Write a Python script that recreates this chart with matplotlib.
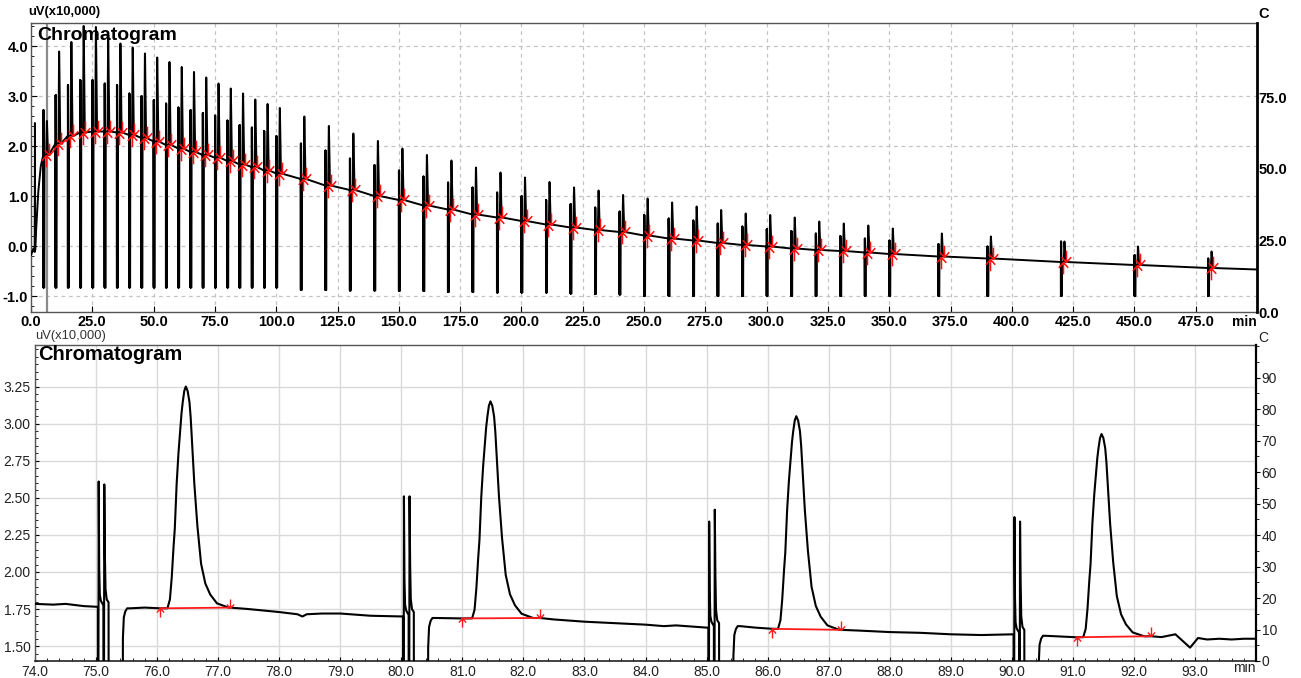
import numpy as np
import matplotlib
matplotlib.use('Agg')
import matplotlib.pyplot as plt
from matplotlib.path import Path
from matplotlib.ticker import FixedLocator, MultipleLocator

plt.rcParams['font.family'] = ['Liberation Sans', 'DejaVu Sans']

# ---------------- overview (top) data ----------------
early_t = [0.0, 1.0, 1.5, 1.6, 1.7, 2.0, 3.0, 4.0, 4.9]
early_v = [-0.18, -0.05, -0.12, 2.46, -0.08, 0.25, 1.10, 1.60, 1.80]

inj_t = [5, 10, 15, 20, 25, 30, 35, 40, 45, 50, 55, 60, 65, 70, 75, 80, 85, 90, 95, 100,
         110, 120, 130, 140, 150, 160, 170, 180, 190, 200, 210, 220, 230, 240, 250, 260,
         270, 280, 290, 300, 310, 320, 330, 340, 350, 370, 390, 420, 450, 480]
inj_base = [1.82, 2.05, 2.20, 2.27, 2.29, 2.29, 2.27, 2.22, 2.16, 2.09, 2.02, 1.95, 1.88, 1.82,
            1.765, 1.70, 1.63, 1.58, 1.51, 1.45,
            1.34, 1.21, 1.12, 1.00, 0.92, 0.81, 0.73, 0.63, 0.57, 0.50, 0.43, 0.37, 0.32, 0.28,
            0.21, 0.15, 0.11, 0.06, 0.02, -0.01, -0.05, -0.08, -0.10, -0.13, -0.16,
            -0.21, -0.25, -0.32, -0.38, -0.44]
inj_spike = [2.72, 3.02, 3.22, 3.32, 3.32, 3.25, 3.22, 3.05, 3.00, 2.92, 2.85, 2.77, 2.72, 2.66,
             2.61, 2.51, 2.42, 2.37, 2.30, 2.20,
             2.05, 1.91, 1.75, 1.62, 1.51, 1.39, 1.27, 1.17, 1.07, 1.00, 0.92, 0.84, 0.77, 0.69,
             0.62, 0.55, 0.51, 0.45, 0.39, 0.34, 0.30, 0.25, 0.20, 0.15, 0.11,
             0.04, -0.01, 0.09, -0.18, -0.25]
inj_peak = [2.50, 3.89, 4.08, 4.40, 4.38, 4.22, 4.05, 3.97, 3.85, 3.77, 3.68, 3.58, 3.48, 3.37,
            3.25, 3.15, 3.05, 2.93, 2.84, 2.76,
            2.59, 2.40, 2.25, 2.10, 1.95, 1.82, 1.71, 1.57, 1.47, 1.37, 1.28, 1.17, 1.11, 1.02,
            0.95, 0.87, 0.79, 0.72, 0.65, 0.62, 0.57, 0.49, 0.45, 0.41, 0.35,
            0.25, 0.19, 0.09, -0.01, -0.11]
inj_floor = [-0.83] * 20 + [-0.88, -0.88, -0.89, -0.89, -0.90, -0.90, -0.92, -0.92, -0.93,
                            -0.93, -0.93, -0.95, -0.96, -0.97] + [-1.0] * 16
end_t, end_v = 500.0, -0.47
cursor_t = 6.6

# ---------------- zoomed (bottom) data ----------------
bl_t = [74.0, 74.3, 74.5, 74.8, 75.0,
        75.55, 75.8, 76.05,
        77.2, 77.5, 78.0, 78.3, 78.38, 78.45, 78.7, 79.0, 79.5, 80.0,
        80.55, 80.99,
        82.27, 82.5, 83.0, 83.5, 84.0, 84.3, 84.5, 85.0,
        85.55, 85.8, 86.08,
        87.2, 87.5, 88.0, 88.5, 89.0, 89.5, 90.0,
        90.55, 91.06,
        92.28, 92.45, 92.68, 92.92, 93.05, 93.2, 93.4, 93.6, 93.8, 94.0]
bl_v = [1.785, 1.78, 1.785, 1.77, 1.765,
        1.755, 1.76, 1.755,
        1.76, 1.75, 1.73, 1.715, 1.70, 1.715, 1.72, 1.72, 1.705, 1.70,
        1.69, 1.687,
        1.69, 1.68, 1.665, 1.655, 1.645, 1.635, 1.64, 1.625,
        1.635, 1.625, 1.617,
        1.61, 1.605, 1.595, 1.59, 1.58, 1.575, 1.58,
        1.57, 1.56,
        1.567, 1.561, 1.58, 1.49, 1.555, 1.545, 1.55, 1.545, 1.55, 1.55]
b_inj_t = [75.0, 80.0, 85.0, 90.0]
b_inj_base = [1.765, 1.70, 1.625, 1.58]
b_inj_after = [1.755, 1.69, 1.635, 1.57]
b_spike1 = [2.61, 2.51, 2.34, 2.37]
b_spike2 = [2.59, 2.51, 2.42, 2.34]
b_pk_t = [76.47, 81.46, 86.47, 91.47]
b_pk_top = [3.25, 3.15, 3.05, 2.93]
b_pk_start_t = [76.05, 80.99, 86.08, 91.06]
b_pk_start_v = [1.755, 1.687, 1.617, 1.56]
b_pk_end_t = [77.2, 82.27, 87.2, 92.28]
b_pk_end_v = [1.76, 1.69, 1.61, 1.567]
shape_dt = [-0.30, -0.26, -0.23, -0.20, -0.18, -0.15, -0.12, -0.10, -0.07, -0.05, -0.025, 0.0,
            0.03, 0.06, 0.08, 0.10, 0.14, 0.19, 0.25, 0.32, 0.40, 0.51, 0.70]
shape_frac = [0.0, 0.04, 0.14, 0.28, 0.36, 0.56, 0.70, 0.77, 0.88, 0.93, 0.98, 1.0,
              0.98, 0.93, 0.86, 0.76, 0.56, 0.37, 0.20, 0.11, 0.06, 0.02, 0.0]

top_xticks = [0, 25, 50, 75, 100, 125, 150, 175, 200, 225, 250, 275, 300, 325, 350, 375, 400,
              425, 450, 475]
top_yticks = [-1.0, 0.0, 1.0, 2.0, 3.0, 4.0]
top_rticks = [0.0, 25.0, 50.0, 75.0]
bot_xticks = [74.0 + i for i in range(20)]
bot_yticks = [1.50, 1.75, 2.00, 2.25, 2.50, 2.75, 3.00, 3.25]
bot_rticks = [0, 10, 20, 30, 40, 50, 60, 70, 80, 90]

# ---------------- helpers ----------------
M, L = Path.MOVETO, Path.LINETO
up_arrow = Path([(0, -1), (0, 0), (-0.4, -0.45), (0, 0), (0.4, -0.45)], [M, L, M, L, L])
down_arrow = Path([(0, 1), (0, 0), (-0.4, 0.45), (0, 0), (0.4, 0.45)], [M, L, M, L, L])

W, H = 1301, 678
fig = plt.figure(figsize=(W / 100, H / 100), dpi=100)


def fx(px):
    return px / W


def fy(py):
    return 1 - py / H


# ================= TOP PANEL =================
ax1 = fig.add_axes([fx(31), fy(312), fx(1257) - fx(31), fy(23) - fy(312)])
tt = list(early_t)
tv = list(early_v)
for t0, b, s, p, f in zip(inj_t, inj_base, inj_spike, inj_peak, inj_floor):
    tt += [t0, t0 + 0.03, t0 + 0.045, t0 + 0.08, t0 + 0.12, t0 + 0.14, t0 + 0.17, t0 + 0.21,
           t0 + 0.43, t0 + 0.5, t0 + 1.2, t0 + 1.45, t0 + 1.5, t0 + 1.95, t0 + 2.2]
    tv += [b, f, s, b, f, s, b, f, f, b, b, p, p, b, b]
tt.append(end_t)
tv.append(end_v)
ax1.plot(tt, tv, color='black', lw=1.4, zorder=3)
ax1.axvline(cursor_t, color='#8a8a8a', lw=1.6, zorder=2)
st = [t + 1.05 for t in inj_t]
et = [t + 2.2 for t in inj_t]
ax1.plot(st, inj_base, ls='none', marker=up_arrow, ms=17, mec='#ff1010', mfc='none', mew=1.1,
         zorder=4)
ax1.plot(et, inj_base, ls='none', marker=down_arrow, ms=17, mec='#ff1010', mfc='none', mew=1.1,
         zorder=4)

ax1.set_xlim(0, 500)
ax1.set_ylim(-1.32, 4.46)
ax1.xaxis.set_major_locator(FixedLocator(top_xticks))
ax1.set_xticklabels([f'{v:.1f}' for v in top_xticks], fontweight='bold', fontsize=10.5)
ax1.yaxis.set_major_locator(FixedLocator(top_yticks))
ax1.set_yticklabels([f'{v:.1f}' for v in top_yticks], fontweight='bold', fontsize=10.5)
ax1.yaxis.set_minor_locator(MultipleLocator(0.2))
ax1.tick_params(axis='both', which='major', direction='in', length=4, width=0.8, pad=2,
                colors='black')
ax1.tick_params(axis='y', which='minor', direction='in', length=2, width=0.6)
ax1.grid(True, which='major', color='#c4c4c4', lw=0.9, ls=(0, (3, 3)))
ax1.set_axisbelow(True)
for side in ['left', 'top', 'bottom']:
    ax1.spines[side].set_color('#555555')
    ax1.spines[side].set_linewidth(1.0)
ax1.spines['right'].set_visible(False)

ax1r = ax1.twinx()
ax1r.set_ylim(0, 101)
ax1r.yaxis.set_major_locator(FixedLocator(top_rticks))
ax1r.set_yticklabels([f'{v:.1f}' for v in top_rticks], fontweight='bold', fontsize=10.5)
ax1r.tick_params(axis='y', direction='in', length=0, pad=1)
for side in ['left', 'top', 'bottom']:
    ax1r.spines[side].set_visible(False)
ax1r.spines['right'].set_color('black')
ax1r.spines['right'].set_linewidth(2.0)

fig.text(fx(28), fy(12), 'uV(x10,000)', fontsize=9.4, fontweight='bold', va='center', ha='left')
fig.text(fx(1258), fy(14), 'C', fontsize=10.5, fontweight='bold', va='center', ha='left')
fig.text(fx(1257), fy(322), 'min', fontsize=10, fontweight='bold', va='center', ha='right')
fig.text(fx(37), fy(36), 'Chromatogram', fontsize=14, fontweight='bold', va='center', ha='left',
         zorder=10)

# ================= BOTTOM PANEL =================
ax2 = fig.add_axes([fx(35), fy(661), fx(1256) - fx(35), fy(345) - fy(661)])
low = -0.9
pts = list(zip(bl_t, bl_v))
for t0, b, a, s1, s2 in zip(b_inj_t, b_inj_base, b_inj_after, b_spike1, b_spike2):
    ev_t = [t0 + 0.03, t0 + 0.033, t0 + 0.043, t0 + 0.052, t0 + 0.062, t0 + 0.08, t0 + 0.108,
            t0 + 0.12, t0 + 0.123, t0 + 0.135, t0 + 0.145, t0 + 0.155, t0 + 0.175, t0 + 0.205,
            t0 + 0.21, t0 + 0.43, t0 + 0.44, t0 + 0.455, t0 + 0.48, t0 + 0.51]
    ev_v = [b, low, s1, b + 0.25, b + 0.08, b + 0.04, b + 0.02,
            b + 0.01, low, s2, b + 0.35, b + 0.12, b + 0.05, b + 0.03,
            low, low, a - 0.2, a - 0.06, a - 0.02, a]
    pts += list(zip(ev_t, ev_v))
for tp, top, s_t, s_v, e_t, e_v in zip(b_pk_t, b_pk_top, b_pk_start_t, b_pk_start_v,
                                        b_pk_end_t, b_pk_end_v):
    base_apex = s_v + (e_v - s_v) * (tp - s_t) / (e_t - s_t)
    for dt, fr in zip(shape_dt, shape_frac):
        t = tp + dt
        base = s_v + (e_v - s_v) * (t - s_t) / (e_t - s_t)
        pts.append((t, base + fr * (top - base_apex)))
pts.sort(key=lambda q: q[0])
ax2.plot([q[0] for q in pts], [q[1] for q in pts], color='black', lw=1.5, zorder=3)

for s_t, s_v, e_t, e_v in zip(b_pk_start_t, b_pk_start_v, b_pk_end_t, b_pk_end_v):
    ax2.plot([s_t, e_t], [s_v, e_v], color='#ff1a1a', lw=1.3, zorder=4)
ax2.plot(b_pk_start_t, b_pk_start_v, ls='none', marker=up_arrow, ms=13, mec='#ff1a1a',
         mfc='none', mew=1.0, zorder=5)
ax2.plot(b_pk_end_t, b_pk_end_v, ls='none', marker=down_arrow, ms=13, mec='#ff1a1a',
         mfc='none', mew=1.0, zorder=5)

ax2.set_xlim(74, 94)
ax2.set_ylim(1.40, 3.53)
ax2.xaxis.set_major_locator(FixedLocator(bot_xticks))
ax2.set_xticklabels([f'{v:.1f}' for v in bot_xticks], fontsize=10, color='#222222')
ax2.xaxis.set_minor_locator(MultipleLocator(0.2))
ax2.yaxis.set_major_locator(FixedLocator(bot_yticks))
ax2.set_yticklabels([f'{v:.2f}' for v in bot_yticks], fontsize=10, color='#222222')
ax2.yaxis.set_minor_locator(MultipleLocator(0.05))
ax2.tick_params(axis='both', which='major', direction='in', length=3, width=0.8, pad=3)
ax2.tick_params(axis='both', which='minor', direction='in', length=2, width=0.6)
ax2.grid(True, which='major', color='#dadada', lw=1.0, ls='-')
ax2.set_axisbelow(True)
for side in ['left', 'top']:
    ax2.spines[side].set_color('#555555')
    ax2.spines[side].set_linewidth(1.0)
ax2.spines['bottom'].set_color('#222222')
ax2.spines['bottom'].set_linewidth(1.2)
ax2.spines['right'].set_visible(False)

ax2r = ax2.twinx()
ax2r.set_ylim(0, 100.4)
ax2r.yaxis.set_major_locator(FixedLocator(bot_rticks))
ax2r.set_yticklabels([str(v) for v in bot_rticks], fontsize=10, color='#222222')
ax2r.yaxis.set_minor_locator(MultipleLocator(5))
ax2r.tick_params(axis='y', which='major', direction='out', length=3, width=0.8, pad=1)
ax2r.tick_params(axis='y', which='minor', direction='out', length=2, width=0.6)
for side in ['left', 'top', 'bottom']:
    ax2r.spines[side].set_visible(False)
ax2r.spines['right'].set_color('black')
ax2r.spines['right'].set_linewidth(1.6)

fig.text(fx(35), fy(336), 'uV(x10,000)', fontsize=9.3, va='center', ha='left', color='#333333')
fig.text(fx(1258), fy(338), 'C', fontsize=10, va='center', ha='left', color='#222222')
fig.text(fx(1256), fy(668), 'min', fontsize=10, va='center', ha='right', color='#222222')
fig.text(fx(38), fy(354), 'Chromatogram', fontsize=14.5, fontweight='bold', va='center',
         ha='left', zorder=10)

fig.savefig('out.png', dpi=100)
